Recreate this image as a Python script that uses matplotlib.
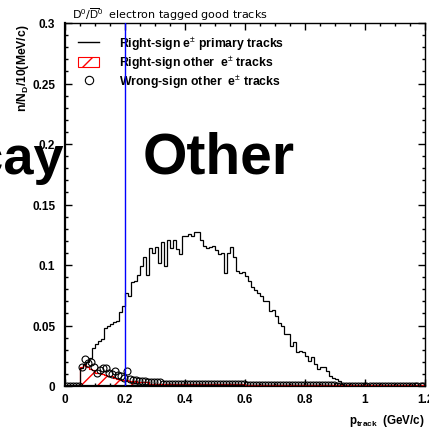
import matplotlib
matplotlib.use("Agg")
import matplotlib.pyplot as plt
import numpy as np
from matplotlib.lines import Line2D
from matplotlib.patches import Patch
from matplotlib.ticker import MultipleLocator, FixedFormatter, FixedLocator

plt.rcParams['font.family'] = ['Liberation Sans', 'DejaVu Sans']
plt.rcParams['mathtext.fontset'] = 'custom'
plt.rcParams['mathtext.rm'] = 'Liberation Sans'
plt.rcParams['mathtext.bf'] = 'Liberation Sans:bold'
plt.rcParams['hatch.linewidth'] = 1.0

# histogram binning: 10 MeV/c bins from 0 to 1.2 GeV/c
bin_edges = np.linspace(0.0, 1.2, 121)

# right-sign e+- primary tracks (black histogram)
primary = [
    0, 0, 0, 0, 0, 0.015, 0.018, 0.020, 0.023, 0.031,
    0.035, 0.037, 0.039, 0.048, 0.050, 0.051, 0.053, 0.054, 0.061, 0.066,
    0.077, 0.074, 0.086, 0.087, 0.092, 0.099, 0.107, 0.092, 0.114, 0.110,
    0.115, 0.102, 0.119, 0.099, 0.121, 0.114, 0.121, 0.113, 0.109, 0.124,
    0.124, 0.126, 0.124, 0.127, 0.127, 0.121, 0.116, 0.114, 0.115, 0.116,
    0.112, 0.109, 0.110, 0.093, 0.110, 0.115, 0.107, 0.095, 0.093, 0.094,
    0.091, 0.087, 0.082, 0.079, 0.077, 0.074, 0.070, 0.070, 0.062, 0.063,
    0.058, 0.052, 0.050, 0.043, 0.043, 0.033, 0.036, 0.028, 0.029, 0.028,
    0.025, 0.021, 0.024, 0.018, 0.014, 0.016, 0.016, 0.012, 0.008, 0.007,
    0.006, 0.004, 0.002, 0, 0, 0, 0, 0, 0, 0,
    0, 0, 0, 0, 0, 0, 0, 0, 0, 0,
    0, 0, 0, 0, 0, 0, 0, 0, 0, 0,
]

# right-sign other e+- tracks (red hatched histogram)
right_other = [
    0, 0, 0, 0, 0, 0.016, 0.017, 0.016, 0.014, 0.013,
    0.011, 0.011, 0.010, 0.009, 0.008, 0.008, 0.007, 0.006, 0.005, 0.005,
    0.005, 0.004, 0.004, 0.004, 0.003, 0.003, 0.003, 0.003, 0.002, 0.002,
    0.002, 0.002, 0.002, 0.002, 0.002, 0.002, 0.002, 0.002, 0.002, 0.002,
    0.0015, 0.0015, 0.0015, 0.0015, 0.0015, 0.0015, 0.0015, 0.0015, 0.0015, 0.0015,
    0.0015, 0.0015, 0.0015, 0.0015, 0.0015, 0.0015, 0.0015, 0.0015, 0.0015, 0.0015,
    0.001, 0.001, 0.001, 0.001, 0.001, 0.001, 0.001, 0.001, 0.001, 0.001,
    0.001, 0.001, 0.001, 0.001, 0.001, 0.001, 0.001, 0.001, 0.001, 0.001,
    0.0005, 0.0005, 0.0005, 0.0005, 0.0005, 0.0005, 0.0005, 0.0005, 0.0005, 0.0005,
    0.0005, 0.0005, 0.0005, 0.0005, 0.0005, 0.0005, 0.0005, 0.0005, 0.0005, 0.0005,
    0.0005, 0.0005, 0.0005, 0.0005, 0.0005, 0.0005, 0.0005, 0.0005, 0.0005, 0.0005,
    0.0005, 0.0005, 0.0005, 0.0005, 0.0005, 0.0005, 0.0005, 0.0005, 0.0005, 0.0005,
]

# wrong-sign other e+- tracks (open circles)
wrong_other = [
    0, 0, 0, 0, 0, 0.016, 0.022, 0.019, 0.020, 0.016,
    0.011, 0.013, 0.015, 0.015, 0.011, 0.010, 0.012, 0.009, 0.008, 0.007,
    0.012, 0.006, 0.005, 0.005, 0.004, 0.004, 0.004, 0.003, 0.003, 0.003,
    0.003, 0.003, 0.002, 0.002, 0.002, 0.002, 0.002, 0.002, 0.002, 0.002,
    0.002, 0.002, 0.002, 0.002, 0.002, 0.002, 0.002, 0.0015, 0.0015, 0.0015,
    0.0015, 0.0015, 0.0015, 0.0015, 0.0015, 0.0015, 0.0015, 0.0015, 0.0015, 0.0015,
    0.001, 0.001, 0.001, 0.001, 0.001, 0.001, 0.001, 0.001, 0.001, 0.001,
    0.0005, 0.0005, 0.0005, 0.0005, 0.0005, 0.0005, 0.0005, 0.0005, 0.0005, 0.0005,
    0.0005, 0.0005, 0.0005, 0.0005, 0.0005, 0.0005, 0.0005, 0.0005, 0.0005, 0.0005,
    0, 0, 0, 0, 0, 0, 0, 0, 0, 0,
    0, 0, 0, 0, 0, 0, 0, 0, 0, 0,
    0, 0, 0, 0, 0, 0, 0, 0, 0, 0,
]

cut_value = 0.2
x_ticks = [0, 0.2, 0.4, 0.6, 0.8, 1.0, 1.2]
x_ticklabels = ['0', '0.2', '0.4', '0.6', '0.8', '1', '1.2']
y_ticks = [0, 0.05, 0.1, 0.15, 0.2, 0.25, 0.3]
y_ticklabels = ['0', '0.05', '0.1', '0.15', '0.2', '0.25', '0.3']

fig = plt.figure(figsize=(4.29, 4.31), dpi=100)
W, H = 429.0, 431.0
ax = fig.add_axes([65 / W, 1 - 387 / H, 360 / W, 363 / H])

centers = 0.5 * (bin_edges[:-1] + bin_edges[1:])

ax.stairs(right_other, bin_edges, fill=True, facecolor='none', edgecolor='red',
          hatch='//', linewidth=0.8, zorder=2)
ax.stairs(right_other, bin_edges, color='red', linewidth=0.8, zorder=3)
ax.stairs(primary, bin_edges, color='black', linewidth=0.9, zorder=4)
ax.plot(centers, wrong_other, 'o', mfc='none', mec='black', ms=5, mew=0.8, zorder=5)
ax.axvline(cut_value, color='blue', linewidth=1.0, zorder=6)

ax.set_xlim(0, 1.2)
ax.set_ylim(0, 0.3)
ax.xaxis.set_major_locator(FixedLocator(x_ticks))
ax.xaxis.set_major_formatter(FixedFormatter(x_ticklabels))
ax.xaxis.set_minor_locator(MultipleLocator(0.05))
ax.yaxis.set_major_locator(FixedLocator(y_ticks))
ax.yaxis.set_major_formatter(FixedFormatter(y_ticklabels))
ax.yaxis.set_minor_locator(MultipleLocator(0.01))
ax.tick_params(which='both', direction='in', top=True, right=True)
ax.tick_params(which='major', length=5, width=1.0)
ax.tick_params(which='minor', length=2.5, width=1.0)
ax.tick_params(axis='y', which='major', pad=7, labelsize=8.5)
ax.tick_params(axis='x', which='major', pad=5, labelsize=8.5)
for lab in ax.get_xticklabels() + ax.get_yticklabels():
    lab.set_fontweight('bold')
ax.spines['left'].set_linewidth(1.6)
ax.spines['bottom'].set_linewidth(1.6)
ax.spines['top'].set_linewidth(1.0)
ax.spines['right'].set_linewidth(1.0)

handles = [
    Line2D([], [], color='black', linewidth=1.0),
    Patch(facecolor='none', edgecolor='red', hatch='//', linewidth=0.8),
    Line2D([], [], linestyle='none', marker='o', mfc='none', mec='black', ms=6, mew=0.8),
]
labels = [
    r'Right-sign e$^{\pm}$ primary tracks',
    r'Right-sign other  e$^{\pm}$ tracks',
    r'Wrong-sign other  e$^{\pm}$ tracks',
]
leg = ax.legend(handles, labels, loc='upper left', bbox_to_anchor=(0.036, 0.968),
                frameon=False, borderpad=0, borderaxespad=0, handlelength=1.75,
                handleheight=0.95, handletextpad=1.6, labelspacing=0.12,
                prop={'weight': 'bold', 'size': 8.8})

fig.text(72 / W, 1 - 15 / H, r'D$^0$/$\overline{\mathrm{D}}^0$  electron tagged good tracks',
         fontsize=8.0, family='DejaVu Sans', ha='left', va='center')
fig.text(23 / W, 1 - 25 / H, r'n/N$_\mathbf{D}$/10(MeV/c)', rotation=90,
         fontsize=8.7, fontweight='bold', ha='center', va='top')
fig.text(425 / W, 1 - 421 / H, r'p$_\mathbf{track}$  (GeV/c)', fontsize=8.4,
         fontweight='bold', ha='right', va='center')

fig.text(64 / W, 1 - 174 / H, 'Decay', fontsize=39, fontweight='bold',
         ha='right', va='baseline', zorder=10)
fig.text(219 / W, 1 - 174 / H, 'Other', fontsize=41, fontweight='bold',
         ha='center', va='baseline', zorder=10)

fig.savefig('out.png', dpi=100)
